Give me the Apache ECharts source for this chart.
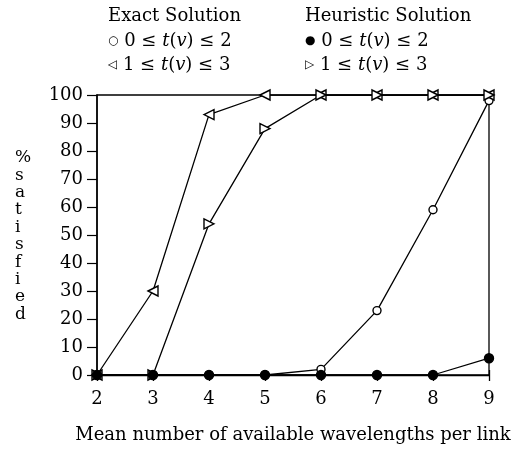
<!DOCTYPE html>
<html>
<head>
<meta charset="utf-8">
<script src="https://cdn.jsdelivr.net/npm/echarts@6/dist/echarts.min.js"></script>
<style>html,body{margin:0;padding:0;background:#fff}#c{width:514px;height:451px}</style>
</head>
<body>
<div id="c"></div>
<script>
// Mean number of available wavelengths per link
var wavelengths = [2, 3, 4, 5, 6, 7, 8, 9];
var yTicks = [0, 10, 20, 30, 40, 50, 60, 70, 80, 90, 100];

// % satisfied
var exactT02 = [0, 0, 0, 0, 2, 23, 59, 98];
var exactT13 = [0, 30, 93, 100, 100, 100, 100, 100];
var heurT02 = [0, 0, 0, 0, 0, 0, 0, 6];
var heurT13 = [0, 0, 54, 88, 100, 100, 100, 100];

var FONT = 'DejaVu Serif';
var leftTri = 'path://M0,5 L10,0 L10,10 Z';
var rightTri = 'path://M10,5 L0,0 L0,10 Z';

function pairs(vals) {
  return wavelengths.map(function (x, i) { return [x, vals[i]]; });
}

function series(name, vals, symbol, filled, size) {
  return {
    name: name,
    type: 'line',
    data: pairs(vals),
    symbol: symbol,
    symbolSize: size,
    showAllSymbol: true,
    lineStyle: { color: '#000', width: 1.3 },
    itemStyle: { color: filled ? '#000' : '#fff', borderColor: '#000', borderWidth: 1.4 },
    animation: false,
    z: filled ? 4 : 3
  };
}

var rich = {
  i: { fontFamily: FONT, fontStyle: 'italic', fontSize: 18, fill: '#000' },
  n: { fontFamily: FONT, fontSize: 18, fill: '#000' },
  m: { fontFamily: FONT, fontSize: 12, fill: '#000' }
};

function legendLine(x, y, mark, lo, hi) {
  return {
    type: 'text', left: x, top: y,
    style: {
      text: '{m|' + mark + '} {n|' + lo + ' ≤ }{i|t}{n|(}{i|v}{n|) ≤ ' + hi + '}',
      font: '18px ' + FONT, fill: '#000', rich: rich
    }
  };
}

var chart = echarts.init(document.getElementById('c'), null, { renderer: 'canvas' });
chart.setOption({
  backgroundColor: '#fff',
  animation: false,
  grid: { left: 97, right: 25, top: 95, bottom: 76, show: true, borderColor: '#000', borderWidth: 1.3, backgroundColor: 'transparent' },
  xAxis: [{
    type: 'value', min: 2, max: 9, interval: 1,
    axisLine: { lineStyle: { color: '#000', width: 1.3 } },
    axisTick: { length: 6, lineStyle: { color: '#000', width: 1.3 } },
    axisLabel: { color: '#000', fontFamily: FONT, fontSize: 18, margin: 15 },
    splitLine: { show: false },
    name: 'Mean number of available wavelengths per link',
    nameLocation: 'middle', nameGap: 51,
    nameTextStyle: { color: '#000', fontFamily: FONT, fontSize: 18 }
  }, {
    type: 'value', min: 2, max: 9, interval: 1, position: 'bottom',
    axisLine: { show: false },
    axisTick: { inside: true, length: 5, lineStyle: { color: '#000', width: 1.3 } },
    axisLabel: { show: false },
    splitLine: { show: false }
  }],
  yAxis: {
    type: 'value', min: 0, max: 100, interval: 10,
    axisLine: { show: true, lineStyle: { color: '#000', width: 1.5 } },
    axisTick: { show: true, length: 10, lineStyle: { color: '#000', width: 1.2 } },
    axisLabel: {
      color: '#000', fontFamily: FONT, fontSize: 18, margin: 14,
      formatter: function (v) { return yTicks.indexOf(v) >= 0 ? String(v) : ''; }
    },
    splitLine: { show: false }
  },
  graphic: [
    { type: 'text', left: 108, top: 7, style: { text: 'Exact Solution', font: '18px ' + FONT, fill: '#000' } },
    { type: 'text', left: 305, top: 7, style: { text: 'Heuristic Solution', font: '18px ' + FONT, fill: '#000' } },
    legendLine(108, 32, '○', 0, 2),
    legendLine(108, 56, '◁', 1, 3),
    legendLine(305, 32, '●', 0, 2),
    legendLine(305, 56, '▷', 1, 3),
    { type: 'text', left: 15, top: 149, style: { text: '%\ns\na\nt\ni\ns\nf\ni\ne\nd', font: '17px ' + FONT, fill: '#000', align: 'center', lineHeight: 17.4 } }
  ],
  series: [
    series('Exact 0 ≤ t(v) ≤ 2', exactT02, 'circle', false, 8),
    series('Exact 1 ≤ t(v) ≤ 3', exactT13, leftTri, false, 10),
    series('Heuristic 0 ≤ t(v) ≤ 2', heurT02, 'circle', true, 9),
    series('Heuristic 1 ≤ t(v) ≤ 3', heurT13, rightTri, false, 10)
  ]
});
</script>
</body>
</html>
